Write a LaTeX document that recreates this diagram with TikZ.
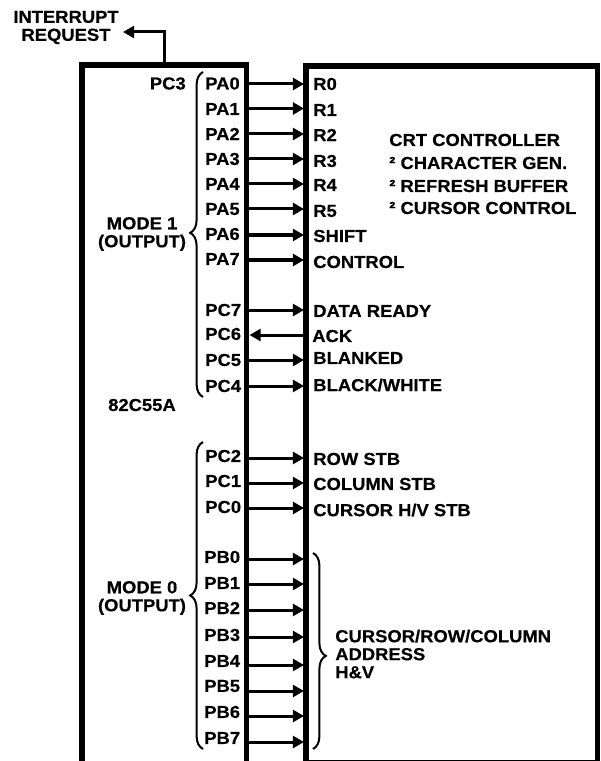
\documentclass[tikz,border=0pt]{standalone}
\usepackage{fontspec}
\setmainfont[BoldFeatures={FakeStretch=1.06,FakeBold=0.4}]{Liberation Sans}
\usetikzlibrary{arrows.meta,decorations.pathreplacing}
\tikzset{
  wall/.style={black,line width=1.4mm},
  thinwall/.style={black,line width=0.4mm},
  flow/.style={-{Triangle[length=2.8mm,width=3mm]},line width=0.75mm},
  lab/.style={font=\fontsize{12.35}{12.8}\selectfont\bfseries,inner sep=0pt,align=center},
  pin/.style={lab,anchor=west},
  sig/.style={lab,anchor=west,align=left},
  grp/.style={black,line width=0.5mm,decorate,decoration={brace,amplitude=3.2mm,aspect=#1}},
}
\begin{document}
\begin{tikzpicture}[x=0.025cm,y=-0.025cm]
  \path[use as bounding box] (0,0) rectangle (600,761);

  % the two chips, both run off the bottom of the sheet
  \draw[wall] (82,761)--(82,65)--(246.5,65)--(246.5,761);
  \draw[wall] (306,761)--(306,66)--(597.5,66)--(597.5,761);
  \draw[thinwall] (306,760.3)--(597.5,760.3);

  \node[lab] (irq) at (66,27.5) {INTERRUPT\\REQUEST};
  \coordinate (irqcorner) at (164,32);
  \coordinate (irqstart) at (164,63);
  \coordinate (irqend) at (123,32);
  \draw[flow] (irqstart)--(irqcorner)--(irqend);

  \node[lab,anchor=east] (pcthree) at (186,83.5) {PC3};
  \node[lab] (chipname) at (142,405) {82C55A};
  \node[lab] (modeone) at (142,234) {MODE 1\\(OUTPUT)};
  \node[lab] (modezero) at (142,598) {MODE 0\\(OUTPUT)};

  \draw[grp=0.505] (203,397)--(203,72);
  \draw[grp=0.5] (203,749)--(203,442);
  \draw[grp=0.525] (313,553)--(313,749);

  % name / label y / wire y / signal y / signal
  \foreach \nm/\yl/\yw/\yr/\txt in {
      PA0/83.5/84/84/R0, PA1/109/108.5/110/R1, PA2/134/134/135/R2, PA3/159/159/161/R3,
      PA4/184/184/185/R4, PA5/209/209/211/R5, PA6/234/235/236/SHIFT, PA7/259/260/262/CONTROL,
      PC7/310/310/311/DATA READY, PC5/360/360/358/BLANKED, PC4/386/386/385/{BLACK/WHITE},
      PC2/456/458/459/ROW STB, PC1/481/483/484/COLUMN STB, PC0/507/508/510/{CURSOR H/V STB}}{
    \node[pin] (\nm) at (205,\yl) {\nm};
    \node[sig] (r\nm) at (313,\yr) {\txt};
    \coordinate (s\nm) at (249,\yw);
    \coordinate (t\nm) at (304,\yw);
    \draw[flow] (s\nm)--(t\nm);
  }

  % the one input
  \node[pin] (PC6) at (205,334) {PC6};
  \node[sig] (rPC6) at (312,336) {ACK};
  \coordinate (sPC6) at (303,335);
  \coordinate (tPC6) at (249.5,335);
  \draw[flow] (sPC6)--(tPC6);

  \foreach \nm/\yl/\yw in {PB0/557/559, PB1/583/584, PB2/608/610, PB3/635/637,
                           PB4/661/665, PB5/686/691, PB6/712/716, PB7/738/742}{
    \node[pin] (\nm) at (204,\yl) {\nm};
    \coordinate (s\nm) at (249,\yw);
    \coordinate (t\nm) at (304,\yw);
    \draw[flow] (s\nm)--(t\nm);
  }

  \node[sig] (address) at (335,654) {CURSOR/ROW/COLUMN\\ADDRESS\\H\&V};
  \node[sig] (crt) at (389,140) {CRT CONTROLLER};
  \node[sig] (chargen) at (389,163) {² CHARACTER GEN.};
  \node[sig] (refresh) at (389,186) {² REFRESH BUFFER};
  \node[sig] (cursor) at (389,208) {² CURSOR CONTROL};
\end{tikzpicture}
\end{document}
